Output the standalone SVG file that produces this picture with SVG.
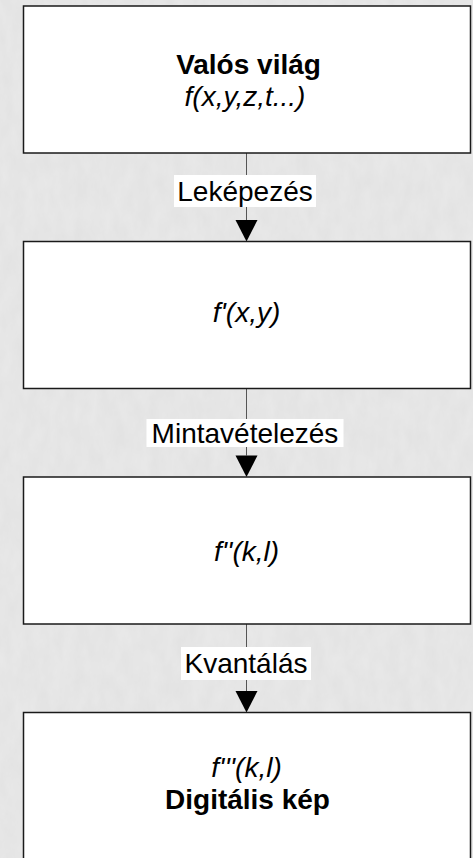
<svg xmlns="http://www.w3.org/2000/svg" width="473" height="858" viewBox="0 0 473 858">
  <defs>
    <filter id="marble" x="0" y="0" width="100%" height="100%">
      <feTurbulence type="fractalNoise" baseFrequency="0.08 0.04" numOctaves="4" seed="7" result="n"/>
      <feColorMatrix in="n" type="matrix" values="0 0 0 0 0.6  0 0 0 0 0.6  0 0 0 0 0.6  0 0 0 0.3 -0.05"/>
      <feComposite in2="SourceGraphic" operator="over"/>
    </filter>
    <style>
      .box { fill: #ffffff; stroke: #1a1a1a; stroke-width: 1.5; }
      .conn { stroke: #555555; stroke-width: 1; fill: none; }
      .head { fill: #000000; }
      .lblbg { fill: #ffffff; }
      text { font-family: "Liberation Sans", Arial, sans-serif; font-size: 28px; fill: #000; text-anchor: middle; }
      .b { font-weight: bold; }
      .i { font-style: italic; }
    </style>
  </defs>

  <rect x="0" y="0" width="473" height="858" fill="#e8e8e8" filter="url(#marble)"/>

  <g id="connectors">
    <line class="conn" x1="246.5" y1="153" x2="246.5" y2="220"/>
    <path class="head" d="M235.5,220 L257.5,220 L246.5,241.5 Z"/>
    <line class="conn" x1="246.5" y1="388.5" x2="246.5" y2="455.5"/>
    <path class="head" d="M235.5,455.5 L257.5,455.5 L246.5,477 Z"/>
    <line class="conn" x1="246.5" y1="624" x2="246.5" y2="691"/>
    <path class="head" d="M235.5,691 L257.5,691 L246.5,712.5 Z"/>

    <g id="label-lekepezes">
      <rect class="lblbg" x="174" y="175" width="142" height="32"/>
      <text x="245" y="201">Leképezés</text>
    </g>
    <g id="label-mintavetelezes">
      <rect class="lblbg" x="146.5" y="419" width="197" height="28"/>
      <text x="245" y="443">Mintavételezés</text>
    </g>
    <g id="label-kvantalas">
      <rect class="lblbg" x="181" y="647" width="130" height="33"/>
      <text x="246" y="673">Kvantálás</text>
    </g>
  </g>

  <g id="node-valos">
    <rect class="box" x="23.5" y="6" width="447" height="147"/>
    <text class="b" x="248.5" y="74">Valós világ</text>
    <text class="i" x="245" y="106">f(x,y,z,t...)</text>
  </g>

  <g id="node-fxy">
    <rect class="box" x="23.5" y="241.5" width="447" height="147"/>
    <text class="i" x="246.5" y="322">f'(x,y)</text>
  </g>

  <g id="node-fkl">
    <rect class="box" x="23.5" y="477" width="447" height="147"/>
    <text class="i" x="246.5" y="561">f''(k,l)</text>
  </g>

  <g id="node-digital">
    <rect class="box" x="23.5" y="712.5" width="447" height="147"/>
    <text class="i" x="246.5" y="777">f'''(k,l)</text>
    <text class="b" x="247.5" y="809">Digitális kép</text>
  </g>
</svg>
